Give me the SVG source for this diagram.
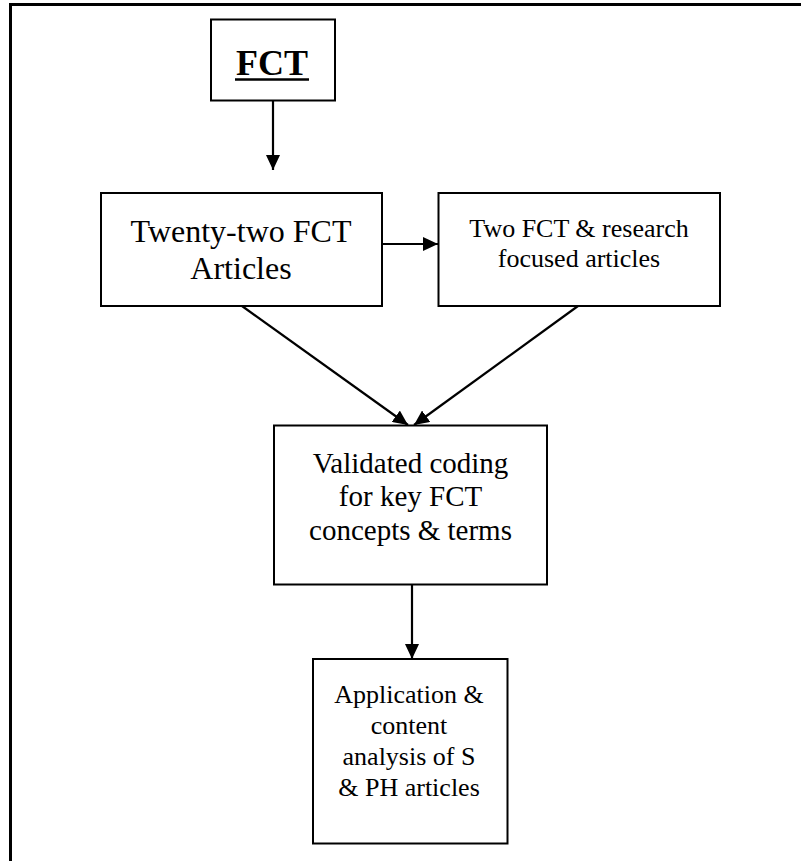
<svg xmlns="http://www.w3.org/2000/svg" width="801" height="861" viewBox="0 0 801 861">
<style>
.box{fill:#fff;stroke:#000;stroke-width:2}
.t{fill:#000;text-anchor:middle}
.c{stroke:#000;stroke-width:2.2;fill:none;marker-end:url(#ah)}
</style>
<defs>
<marker id="ah" markerUnits="userSpaceOnUse" markerWidth="16" markerHeight="14" refX="15" refY="7" orient="auto">
<path d="M0,0 L15,7 L0,14 Z" fill="#000"/>
</marker>
</defs>
<rect x="0" y="0" width="801" height="861" fill="#fff"/>
<path d="M10.5,861 V4.5 H801" fill="none" stroke="#000" stroke-width="3"/>
<g id="connectors">
<line class="c" x1="273" y1="101" x2="273" y2="170"/>
<line class="c" x1="382" y1="244" x2="438" y2="244"/>
<line class="c" x1="242" y1="306" x2="408" y2="425"/>
<line class="c" x1="578" y1="306" x2="414" y2="425"/>
<line class="c" x1="412" y1="585" x2="412" y2="659"/>
</g>
<g font-family="Liberation Serif, serif">
<g id="fct">
<rect class="box" x="211" y="19.5" width="124" height="81"/>
<text class="t" x="272" y="75" font-size="36" font-weight="bold">FCT</text>
<line x1="235" y1="79.5" x2="309" y2="79.5" stroke="#000" stroke-width="2.5"/>
</g>
<g id="twentytwo">
<rect class="box" x="101" y="193" width="281" height="113"/>
<text class="t" x="241" y="241.5" font-size="32">Twenty-two FCT</text>
<text class="t" x="241" y="278.5" font-size="32">Articles</text>
</g>
<g id="twofct">
<rect class="box" x="438.5" y="193" width="281.5" height="113"/>
<text class="t" x="579" y="236.5" font-size="26">Two FCT &amp; research</text>
<text class="t" x="579" y="266.5" font-size="26">focused articles</text>
</g>
<g id="validated">
<rect class="box" x="274" y="425.5" width="273" height="159"/>
<text class="t" x="410.5" y="472.5" font-size="29">Validated coding</text>
<text class="t" x="410.5" y="506" font-size="29">for key FCT</text>
<text class="t" x="410.5" y="539.5" font-size="29">concepts &amp; terms</text>
</g>
<g id="application">
<rect class="box" x="313" y="659" width="194.5" height="184.5"/>
<text class="t" x="409" y="703" font-size="26">Application &amp;</text>
<text class="t" x="409" y="734" font-size="26">content</text>
<text class="t" x="409" y="765" font-size="26">analysis of S</text>
<text class="t" x="409" y="795.5" font-size="26">&amp; PH articles</text>
</g>
</g>
</svg>
